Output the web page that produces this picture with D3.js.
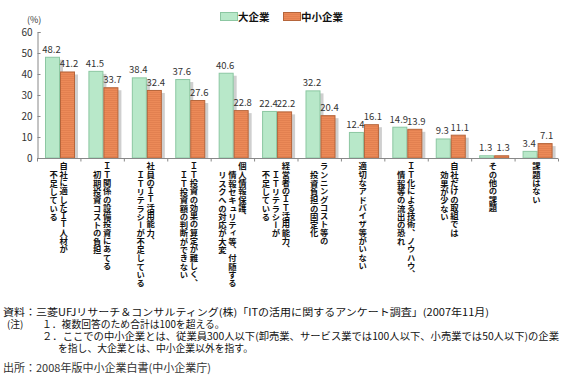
<!DOCTYPE html>
<html>
<head>
<meta charset="utf-8">
<script src="https://cdn.jsdelivr.net/npm/d3@7"></script>
<style>
  body { margin: 0; background: #fff; }
  svg { display: block; font-family: "Noto Sans CJK JP", "Noto Sans", sans-serif; }
</style>
</head>
<body>
<svg id="chart" width="579" height="380"></svg>
<script>
// category labels, one entry per line of the vertical caption
const categories = [
  ['自社に適したＩＴ人材が', '不足している'],
  ['ＩＴ関係の設備投資にあてる', '初期投資コストの負担'],
  ['社員のＩＴ活用能力、', 'ＩＴリテラシーが不足している'],
  ['ＩＴ投資の効果の算定が難しく、', 'ＩＴ投資額の判断ができない'],
  ['個人情報保護、', '情報セキュリティ等、付随する', 'リスクへの対応が大変'],
  ['経営者のＩＴ活用能力、', 'ＩＴリテラシーが', '不足している'],
  ['ランニングコスト等の', '投資負担の固定化'],
  ['適切なアドバイザ等がいない'],
  ['ＩＴ化による技術、ノウハウ、', '情報等の流出の恐れ'],
  ['自社だけの取組では', '効果が少ない'],
  ['その他の課題'],
  ['課題はない']
];
const seriesNames = ['大企業', '中小企業'];
const largeValues = [48.2, 41.5, 38.4, 37.6, 40.6, 22.4, 32.2, 12.4, 14.9, 9.3, 1.3, 3.4];
const smallValues = [41.2, 33.7, 32.4, 27.6, 22.8, 22.2, 20.4, 16.1, 13.9, 11.1, 1.3, 7.1];
const yTicks = [0, 10, 20, 30, 40, 50, 60];
const notes = [
  '資料：三菱UFJリサーチ＆コンサルティング(株)「ITの活用に関するアンケート調査」(2007年11月)',
  '１．複数回答のため合計は100を超える。',
  '２．ここでの中小企業とは、従業員300人以下(卸売業、サービス業では100人以下、小売業では50人以下)の企業',
  'を指し、大企業とは、中小企業以外を指す。'
];
const sourceText = '出所：2008年版中小企業白書(中小企業庁)';

const svg = d3.select('#chart');
const fills = ['url(#greenFill)', 'url(#orangeFill)'];
const strokes = ['#8cc7a2', '#b5653b'];

// bar fills
const defs = svg.append('defs');
const gp = defs.append('pattern')
  .attr('id', 'greenFill').attr('patternUnits', 'userSpaceOnUse')
  .attr('width', 4).attr('height', 2);
gp.append('rect').attr('width', 4).attr('height', 2).attr('fill', '#b8e8c9');
const op = defs.append('pattern')
  .attr('id', 'orangeFill').attr('patternUnits', 'userSpaceOnUse')
  .attr('width', 4).attr('height', 2);
op.append('rect').attr('width', 4).attr('height', 2).attr('fill', '#ec8a58');
op.append('rect').attr('width', 4).attr('height', 0.6).attr('fill', '#dc7a4a');

const x0 = d3.scaleBand()
  .domain(d3.range(categories.length))
  .range([37, 558]);
const x1 = d3.scaleBand()
  .domain([0, 1])
  .range([8, 38]);
const y = d3.scaleLinear()
  .domain([0, 60])
  .range([158, 32]);

const rows = categories.map((c, i) => ({ i: i, vals: [largeValues[i], smallValues[i]] }));

const groups = svg.append('g').selectAll('g')
  .data(rows)
  .enter()
  .append('g')
  .attr('transform', d => `translate(${x0(d.i)},0)`);

// shadows
groups.selectAll('.shadow')
  .data(d => d.vals.map((v, s) => ({ v: v, s: s })))
  .enter()
  .append('rect')
  .attr('class', 'shadow')
  .attr('x', d => x1(d.s) + 3)
  .attr('y', d => Math.min(y(d.v) + 3, y(0)))
  .attr('width', x1.bandwidth())
  .attr('height', d => Math.max(y(0) - y(d.v) - 3, 0))
  .attr('fill', '#cfcfcf');

groups.selectAll('.bar')
  .data(d => d.vals.map((v, s) => ({ v: v, s: s })))
  .enter()
  .append('rect')
  .attr('class', 'bar')
  .attr('x', d => x1(d.s) + 0.5)
  .attr('y', d => y(d.v) + 0.5)
  .attr('width', x1.bandwidth() - 1)
  .attr('height', d => Math.max(y(0) - y(d.v) - 0.5, 0.5))
  .attr('fill', d => fills[d.s])
  .attr('stroke', d => strokes[d.s])
  .attr('stroke-width', 1);

groups.selectAll('.val')
  .data(d => d.vals.map((v, s) => ({ v: v, s: s })))
  .enter()
  .append('text')
  .attr('class', 'val')
  .attr('x', d => x1(d.s) + x1.bandwidth() / 2 + (d.s === 0 ? -1 : 1.5))
  .attr('y', d => y(d.v) - 4)
  .attr('text-anchor', 'middle')
  .attr('font-size', '9.5px')
  .attr('fill', '#333')
  .text(d => d.v.toFixed(1));

// axes
const yAxis = svg.append('g')
  .attr('transform', 'translate(37.5,0)')
  .call(d3.axisLeft(y).tickValues(yTicks).tickSize(-3).tickPadding(5));
yAxis.selectAll('path, line').attr('stroke', '#888');
yAxis.selectAll('text').attr('font-size', '10px').attr('fill', '#333')
  .style('font-family', '"Noto Sans CJK JP", sans-serif');

const xAxis = svg.append('g')
  .attr('transform', 'translate(0,158.5)');
xAxis.append('line')
  .attr('x1', 37).attr('x2', 558)
  .attr('stroke', '#888');
xAxis.selectAll('.tk')
  .data(d3.range(categories.length + 1))
  .enter()
  .append('line')
  .attr('x1', i => (i < categories.length ? x0(i) : x0.range()[1]) + 0.5)
  .attr('x2', i => (i < categories.length ? x0(i) : x0.range()[1]) + 0.5)
  .attr('y1', 0).attr('y2', 3)
  .attr('stroke', '#888');

svg.append('text')
  .attr('x', 27).attr('y', 23)
  .attr('font-size', '9px')
  .attr('fill', '#333')
  .text('(%)');

// vertical category captions
const lab = svg.append('g').selectAll('g')
  .data(categories)
  .enter()
  .append('g');
lab.each(function(lines, i) {
  const cx = x0(i) + x0.bandwidth() / 2;
  const n = lines.length;
  d3.select(this).selectAll('text')
    .data(lines)
    .enter()
    .append('text')
    .attr('x', (l, j) => cx + ((n - 1) / 2 - j) * 10)
    .attr('y', (l, j) => j === 0 ? 162 : 171)
    .attr('font-size', '8.3px')
    .attr('font-weight', 'bold')
    .attr('fill', '#111')
    .style('writing-mode', 'vertical-rl')
    .text(l => l);
});

// legend
const legend = svg.append('g').selectAll('g')
  .data(seriesNames)
  .enter()
  .append('g')
  .attr('transform', (d, i) => `translate(${220 + i * 63},12)`);
legend.append('rect')
  .attr('x', 0.5).attr('y', 0.5)
  .attr('width', 17).attr('height', 8)
  .attr('fill', (d, i) => fills[i])
  .attr('stroke', (d, i) => strokes[i]);
legend.append('text')
  .attr('x', 18).attr('y', 8.5)
  .attr('font-size', '10.5px')
  .attr('font-weight', 'bold')
  .attr('fill', '#111')
  .text(d => d);

// notes
const noteX = [3, 42, 42, 58];
const noteY = [316, 328, 340, 352];
const noteW = [486, null, 517, null];
svg.append('g').selectAll('text')
  .data(notes)
  .enter()
  .append('text')
  .attr('x', (d, i) => noteX[i])
  .attr('y', (d, i) => noteY[i])
  .attr('font-size', '9.8px')
  .attr('fill', '#111')
  .each(function(d, i) {
    if (noteW[i] !== null) {
      d3.select(this)
        .attr('textLength', noteW[i])
        .attr('lengthAdjust', 'spacingAndGlyphs');
    }
  })
  .text(d => d);
svg.append('text')
  .attr('x', 7).attr('y', 328)
  .attr('font-size', '9.8px')
  .attr('fill', '#111')
  .text('(注)');

svg.append('text')
  .attr('x', 3).attr('y', 372)
  .attr('font-size', '11px')
  .attr('fill', '#333')
  .text(sourceText);
</script>
</body>
</html>
